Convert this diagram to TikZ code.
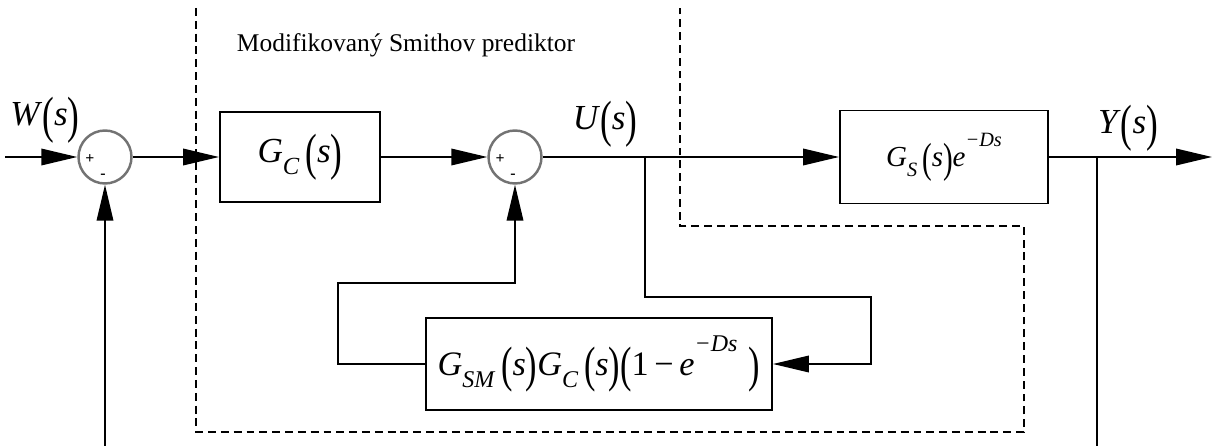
\documentclass[tikz,border=0pt]{standalone}
\usepackage{fontspec}
\setmainfont{Liberation Serif}
\usepackage{graphicx}
\usetikzlibrary{arrows.meta}
\newcommand\lp{\raisebox{-0.2em}{\scalebox{1}[1.45]{(}}}
\newcommand\rp{\raisebox{-0.2em}{\scalebox{1}[1.45]{)}}}
\newcommand\sbs[1]{\raisebox{-0.35em}{\scalebox{0.7}{\textit{#1}}}}
\newcommand\sps[1]{\raisebox{0.7em}{\scalebox{0.7}{\textit{#1}}}}
\begin{document}
\begin{tikzpicture}[x=0.02cm,y=-0.02cm,
  sig/.style={line width=1.1pt},
  arr/.style={sig,-{Triangle[length=0.72cm,width=0.33cm]}},
  blk/.style={draw,line width=1.1pt,inner sep=0pt},
  sumj/.style={circle,draw=black!55,line width=1.4pt,minimum size=1.06cm,inner sep=0pt},
  sgn/.style={font=\fontsize{9}{9}\selectfont\bfseries,inner sep=0pt},
  lbl/.style={font=\fontsize{20}{20}\selectfont,inner sep=0pt},
  dsh/.style={line width=0.9pt,dash pattern=on 4.5pt off 2.8pt}]
\useasboundingbox (0,0) rectangle (1214,446);
\clip (0,0) rectangle (1214,446);
% dashed predictor boundary
\draw[dsh] (196,8) -- (196,432) -- (1024,432) -- (1024,226) -- (680,226) -- (680,8);
\node[font=\fontsize{14.5}{14.5}\selectfont,inner sep=0pt] (title) at (406,45) {Modifikovaný Smithov prediktor};
% nodes
\coordinate (in) at (5,157);
\node[sumj] (s1) at (105,157) {};
\node[sgn] (s1p) at (90,159) {+};
\node[sgn] (s1m) at (103,176) {-};
\node[blk,minimum width=3.2cm,minimum height=1.8cm] (gc) at (300,157)
  {\fontsize{20}{20}\selectfont\textit{G}\sbs{C}\,\lp\textit{s}\rp};
\node[sumj] (s2) at (515,157) {};
\node[sgn] (s2p) at (500,159) {+};
\node[sgn] (s2m) at (513,176) {-};
\node[blk,minimum width=4.16cm,minimum height=1.86cm] (gs) at (944,157)
  {\fontsize{16.5}{16.5}\selectfont\textit{G}\sbs{S}\,\lp\textit{s}\rp\textit{e}\sps{−Ds}\hspace{0.68cm}};
\node[blk,minimum width=6.92cm,minimum height=1.84cm] (b3) at (599,364)
  {\fontsize{19.5}{19.5}\selectfont\textit{G}\sbs{SM}\,\lp\textit{s}\rp\textit{G}\sbs{C}\,\lp\textit{s}\rp\lp1\,−\,\textit{e}\sps{−Ds}\,\,\rp};
\coordinate (bu) at (645,157);
\coordinate (by) at (1097,157);
\coordinate (out) at (1212,157);
% labels
\node[lbl] (wl) at (45,120) {\textit{W}\lp\textit{s}\rp};
\node[lbl] (ul) at (605,124) {\textit{U}\lp\textit{s}\rp};
\node[lbl] (yl) at (1128,128) {\textit{Y}\lp\textit{s}\rp};
% connectors
\draw[arr] (in) -- (s1.west);
\draw[arr] (s1.east) -- (gc.west);
\draw[arr] (gc.east) -- (s2.west);
\draw[arr] (s2.east) -- (gs.west);
\draw[arr] (gs.east) -- (out);
\draw[arr] (bu) -- (645,297) -- (871,297) |- (b3.east);
\draw[arr] (b3.west) -| (338,283) -| (s2.south);
\draw[arr] (by) -- (1097,447) -| (s1.south);
\end{tikzpicture}
\end{document}
